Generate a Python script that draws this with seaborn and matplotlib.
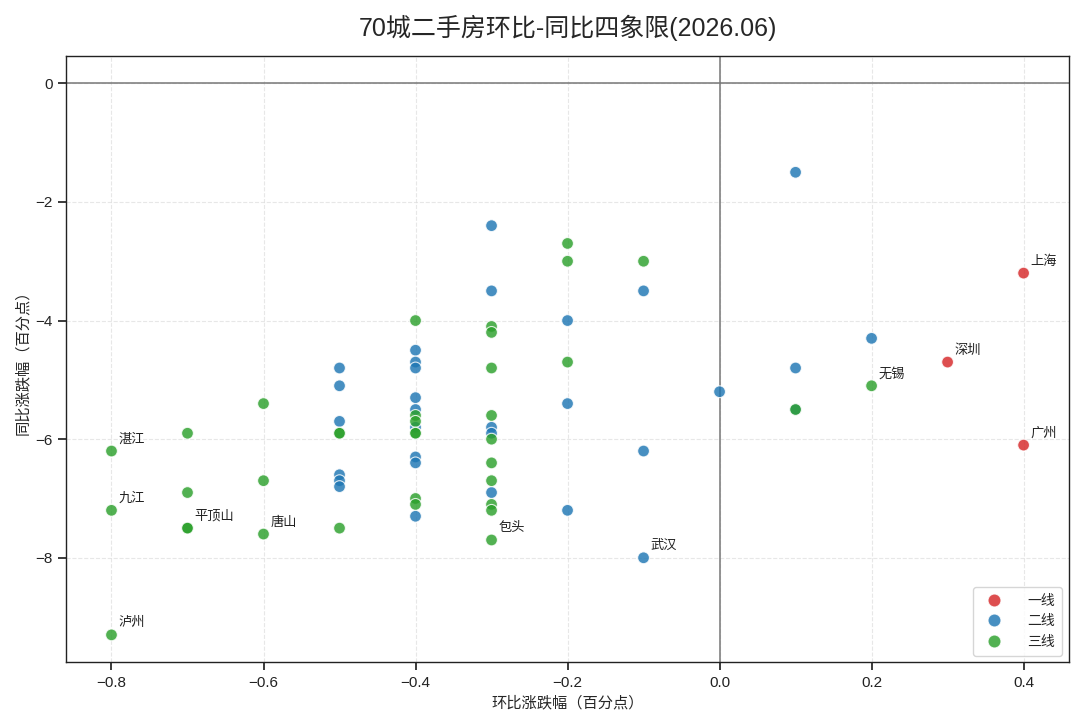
import matplotlib
matplotlib.use("Agg")
import matplotlib.pyplot as plt
import seaborn as sns
import pandas as pd

# ---- data ----
tier1_x = [0.4, 0.3, 0.4]
tier1_y = [-3.2, -4.7, -6.1]
tier1_names = ["上海", "深圳", "广州"]

tier2_x = [-0.5, -0.5, -0.5, -0.5, -0.5, -0.5,
           -0.4, -0.4, -0.4, -0.4, -0.4, -0.4, -0.4, -0.4, -0.4,
           -0.3, -0.3, -0.3, -0.3, -0.3,
           -0.2, -0.2, -0.2,
           -0.1, -0.1, -0.1,
           0.0,
           0.1, 0.1, 0.1,
           0.2]
tier2_y = [-4.8, -5.1, -5.7, -6.6, -6.7, -6.8,
           -4.5, -4.7, -4.8, -5.3, -5.5, -5.8, -6.3, -6.4, -7.3,
           -2.4, -3.5, -5.8, -5.9, -6.9,
           -4.0, -5.4, -7.2,
           -3.5, -6.2, -8.0,
           -5.2,
           -1.5, -4.8, -5.5,
           -4.3]
tier2_names = [""] * 25 + ["武汉"] + [""] * 5

tier3_x = [-0.8, -0.8, -0.8,
           -0.7, -0.7, -0.7, -0.7,
           -0.6, -0.6, -0.6,
           -0.5, -0.5, -0.5,
           -0.4, -0.4, -0.4, -0.4, -0.4, -0.4, -0.4,
           -0.3, -0.3, -0.3, -0.3, -0.3, -0.3, -0.3, -0.3, -0.3, -0.3,
           -0.2, -0.2, -0.2,
           -0.1,
           0.1,
           0.2]
tier3_y = [-6.2, -7.2, -9.3,
           -5.9, -6.9, -7.5, -7.5,
           -5.4, -6.7, -7.6,
           -5.9, -5.9, -7.5,
           -4.0, -5.6, -5.7, -5.9, -5.9, -7.0, -7.1,
           -4.1, -4.2, -4.8, -5.6, -6.0, -6.4, -6.7, -7.1, -7.2, -7.7,
           -2.7, -3.0, -4.7,
           -3.0,
           -5.5,
           -5.1]
tier3_names = ["湛江", "九江", "泸州",
               "", "", "平顶山", "",
               "", "", "唐山",
               "", "", "",
               "", "", "", "", "", "", "",
               "", "", "", "", "", "", "", "", "", "包头",
               "", "", "",
               "",
               "",
               "无锡"]

tiers = ["一线", "二线", "三线"]
colors = ["#d62728", "#1f77b4", "#2ca02c"]

df = pd.DataFrame({
    "mom": tier1_x + tier2_x + tier3_x,
    "yoy": tier1_y + tier2_y + tier3_y,
    "tier": [tiers[0]] * len(tier1_x) + [tiers[1]] * len(tier2_x) + [tiers[2]] * len(tier3_x),
    "name": tier1_names + tier2_names + tier3_names,
})

sns.set_theme(style="ticks")
plt.rcParams["font.family"] = ["Liberation Sans", "Noto Sans CJK SC", "DejaVu Sans"]
plt.rcParams["axes.unicode_minus"] = True

fig, ax = plt.subplots(figsize=(10.8, 7.24), dpi=100)

ax.axhline(0, color="#777777", lw=1.1, zorder=1)
ax.axvline(0, color="#777777", lw=1.1, zorder=1)

sns.scatterplot(data=df, x="mom", y="yoy", hue="tier", hue_order=tiers,
                palette=colors, s=72, alpha=0.82, edgecolor="white",
                linewidth=0.8, ax=ax, zorder=3)

for _, r in df.iterrows():
    if r["name"]:
        ax.annotate(r["name"], (r["mom"], r["yoy"]), xytext=(5, 4),
                    textcoords="offset points", fontsize=9.5, ha="left",
                    va="bottom", color="#222222")

ax.grid(True, ls="--", lw=0.8, color="#dddddd", alpha=0.7, zorder=0)
for sp in ax.spines.values():
    sp.set_color("#222222")
    sp.set_linewidth(1.0)
ax.tick_params(labelsize=11, colors="#222222")

ax.set_xlabel("环比涨跌幅（百分点）", fontsize=11, labelpad=4)
ax.set_ylabel("同比涨跌幅（百分点）", fontsize=11, labelpad=4)
ax.set_title("70城二手房环比-同比四象限(2026.06)", fontsize=18, pad=14)

leg = ax.legend(loc="lower right", fontsize=10, title=None, frameon=True,
                borderpad=0.5, handletextpad=1.4, labelspacing=0.45,
                markerscale=1.1)
leg.get_frame().set_edgecolor("#cccccc")

fig.subplots_adjust(left=0.061, right=0.99, top=0.923, bottom=0.085)
fig.savefig("out.png", dpi=100)
